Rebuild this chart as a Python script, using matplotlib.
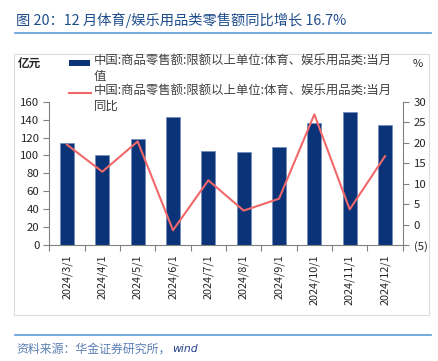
import numpy as np
import matplotlib
matplotlib.use('Agg')
from matplotlib import pyplot as plt
from matplotlib.patches import Rectangle
from matplotlib.lines import Line2D

plt.rcParams['font.family'] = ['Noto Sans CJK SC', 'DejaVu Sans']

months = ['2024/3/1', '2024/4/1', '2024/5/1', '2024/6/1', '2024/7/1',
          '2024/8/1', '2024/9/1', '2024/10/1', '2024/11/1', '2024/12/1']
sales = [114.3, 100.2, 118.8, 142.7, 105.4, 104.0, 109.5, 136.3, 148.9, 134.4]   # 亿元
yoy = [19.5, 12.9, 20.3, -1.4, 10.8, 3.4, 6.3, 26.9, 3.7, 16.7]                  # %

bar_label = '中国:商品零售额:限额以上单位:体育、娱乐用品类:当月\n值'
line_label = '中国:商品零售额:限额以上单位:体育、娱乐用品类:当月\n同比'
left_ticks = [0, 20, 40, 60, 80, 100, 120, 140, 160]
right_ticks = [-5, 0, 5, 10, 15, 20, 25, 30]

W, H = 438, 361
navy = '#0B3378'
red = '#F0686A'
blue_line = '#5B9BD5'
txt = '#262626'

fig = plt.figure(figsize=(W / 100, H / 100), dpi=100)

def fx(px):
    return px / W

def fy(py):
    return 1 - py / H

# title and rules
fig.text(fx(16), fy(20), '图 20：12 月体育/娱乐用品类零售额同比增长 16.7%',
         fontsize=10.3, color='#1F4E8C', va='center', ha='left')
fig.add_artist(Line2D([fx(15), fx(431)], [fy(32.5), fy(32.5)], color=blue_line, lw=1.2))
fig.add_artist(Line2D([fx(15), fx(431)], [fy(335), fy(335)], color=blue_line, lw=1.2))
fig.text(fx(16), fy(349), '资料来源：华金证券研究所，', fontsize=8.6, color='#5B7FB5',
         style='italic', va='center', ha='left')
fig.text(fx(172), fy(349), 'wind', fontsize=7.8, color='#1F3F8C', style='italic',
         va='center', ha='left', family=['DejaVu Sans'])

# chart frame
fig.add_artist(Rectangle((fx(14), fy(315)), fx(429) - fx(14), fy(54) - fy(315),
                         fill=False, edgecolor='#DDDDDD', lw=0.8))

ax = fig.add_axes([fx(49.3), fy(245), fx(402.7) - fx(49.3), fy(101.7) - fy(245)])
ax2 = ax.twinx()

x = np.arange(len(months))
ax.bar(x, sales, width=0.4, color=navy, edgecolor='#6F8CBF', linewidth=0.5, zorder=2)
ax2.plot(x, yoy, color=red, lw=1.5, zorder=3)

ax.set_xlim(-0.5, len(months) - 0.5)
ax.set_ylim(0, 160)
ax2.set_ylim(-5, 30)
ax.set_yticks(left_ticks)
ax2.set_yticks(right_ticks)
ax2.set_yticklabels(['(5)' if v < 0 else str(v) for v in right_ticks])

ax.set_xticks(x)
ax.set_xticklabels(months, rotation=90)
ax.set_xticks(np.arange(-0.5, len(months)), minor=True)
ax.tick_params(axis='x', which='major', length=0, pad=7, labelsize=7.8, labelcolor=txt)
ax.tick_params(axis='x', which='minor', length=4, width=0.8, color='#808080')
ax.tick_params(axis='y', length=4, width=0.8, color='#808080', labelsize=8.2, labelcolor=txt, pad=3)
ax2.tick_params(axis='y', length=4, width=0.8, color='#808080', labelsize=8.2, labelcolor=txt, pad=4)

for a in (ax, ax2):
    a.spines['top'].set_visible(False)
    for s in ('left', 'right', 'bottom'):
        a.spines[s].set_color('#808080')
        a.spines[s].set_linewidth(0.8)
ax.spines['right'].set_visible(False)
ax2.spines['left'].set_visible(False)
ax2.spines['bottom'].set_visible(False)

# unit labels
fig.text(fx(18), fy(64), '亿元', fontsize=8.4, color=txt, va='center', ha='left', weight='bold')
fig.text(fx(413), fy(64), '%', fontsize=8, color=txt, va='center', ha='left')

# legend, handles aligned with the first text line as in the source chart
fig.add_artist(Rectangle((fx(69), fy(65.5)), fx(90) - fx(69), fy(59.5) - fy(65.5),
                         color=navy, lw=0))
fig.add_artist(Line2D([fx(69), fx(91)], [fy(92.5), fy(92.5)], color=red, lw=1.5))
fig.text(fx(94), fy(54), bar_label, fontsize=8.9, color='#404040',
         va='top', ha='left', linespacing=1.3)
fig.text(fx(94), fy(84), line_label, fontsize=8.9, color='#404040',
         va='top', ha='left', linespacing=1.3)

fig.savefig('out.png', dpi=100)
